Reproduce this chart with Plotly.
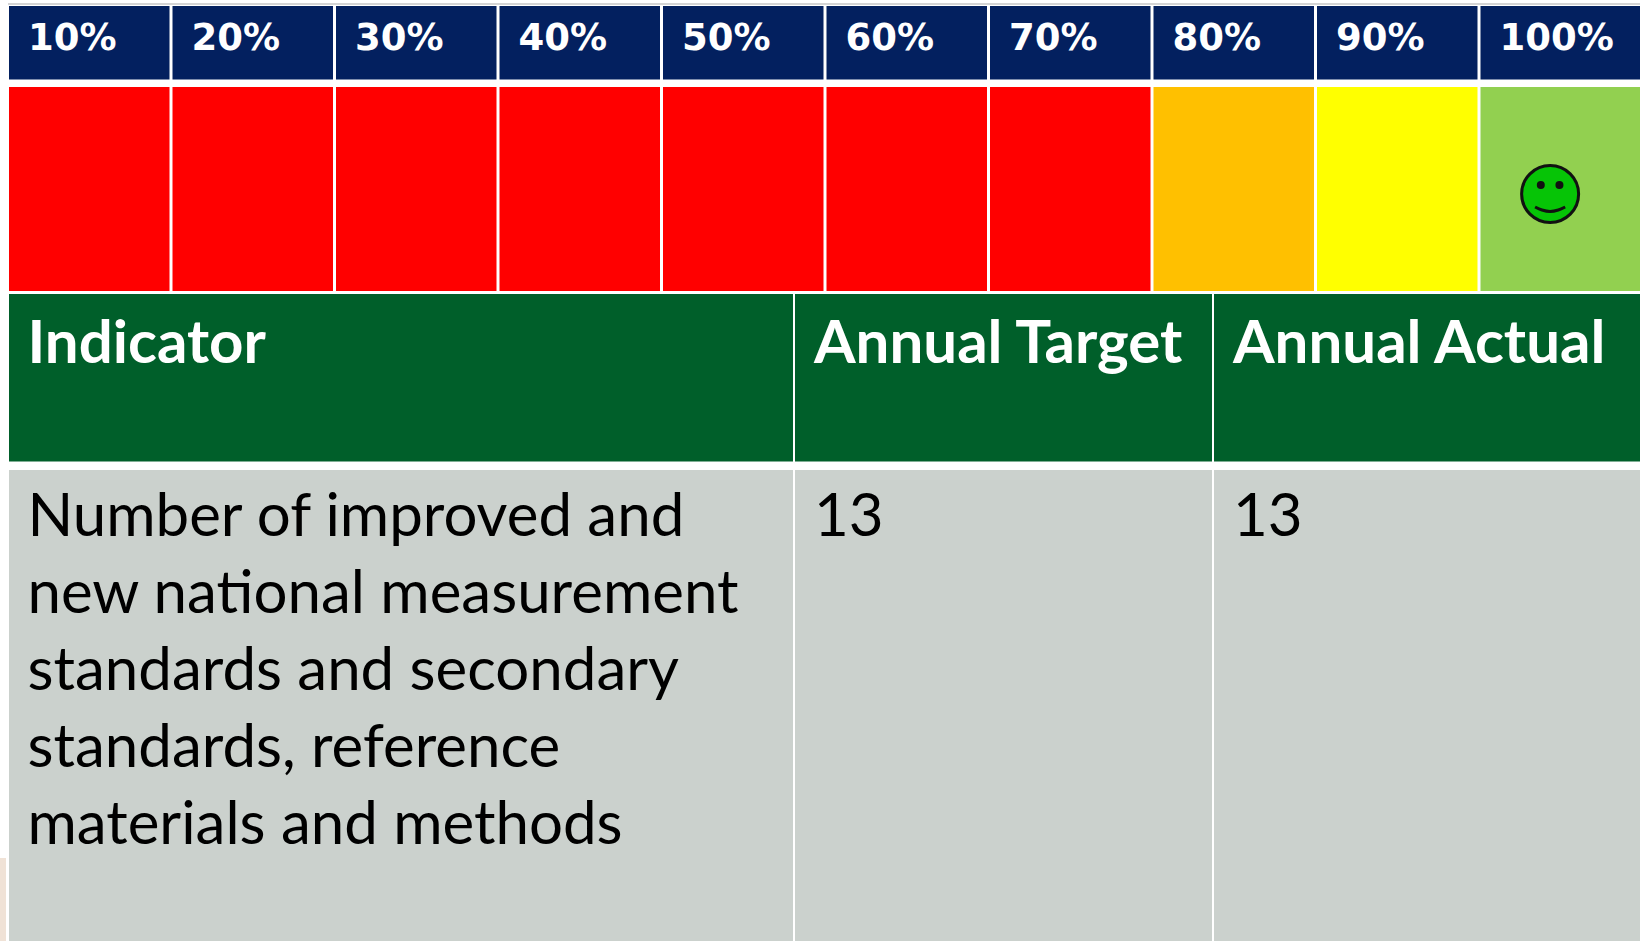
import plotly.graph_objects as go

# --- data ---
levels = [10, 20, 30, 40, 50, 60, 70, 80, 90, 100]
level_labels = ["10%", "20%", "30%", "40%", "50%", "60%", "70%", "80%", "90%", "100%"]
level_colors = ["#ff0000"] * 7 + ["#ffc000", "#ffff00", "#92d050"]
achieved_level = 100
headers = ["Indicator", "Annual Target", "Annual Actual"]
indicator_lines = [
    "Number of improved and",
    "new national measurement",
    "standards and secondary",
    "standards, reference",
    "materials and methods",
]
annual_target = ["13"]
annual_actual = ["13"]

# --- layout constants (pixels of the 1640x941 page) ---
W, H = 1640, 941
PITCH = 163.5          # px per 10 %
LEFT = 9
PX_PER_PCT = PITCH / 10
CELL_W_PCT = 160.5 / PX_PER_PCT
X0_PCT = 10 - (LEFT + 160.5 / 2) / PX_PER_PCT   # percent value at page x=0
col_edges = [(9, 793), (795, 1212), (1214, 1640)]
col_text_x = [27.5, 814, 1233]
FONT = "Lato"
NAVY, GREEN, GREY = "#03205f", "#005f2a", "#cbd1cd"

fig = go.Figure()

# level strip: header and colour cells on a percent axis
fig.add_bar(x=levels, y=[73.5] * 10, base=[6] * 10, width=[CELL_W_PCT] * 10,
            marker=dict(color=NAVY, line=dict(width=0)), hoverinfo="skip")
fig.add_bar(x=levels, y=[204] * 10, base=[87] * 10, width=[CELL_W_PCT] * 10,
            marker=dict(color=level_colors, line=dict(width=0)), hoverinfo="skip")
fig.add_scatter(x=[v - 3.74 for v in levels], y=[41] * 10, mode="text",
                text=level_labels, textposition="middle right",
                textfont=dict(family="DejaVu Sans", size=37, color="white",
                              weight="bold"), hoverinfo="skip")

# smiley at the achieved level
face_x = achieved_level - 0.65
fig.add_scatter(x=[face_x], y=[194], mode="markers",
                marker=dict(size=57, color="#06c406", line=dict(color="#111111", width=3)),
                hoverinfo="skip")
fig.add_scatter(x=[face_x - 0.57, face_x + 0.57], y=[185, 185], mode="markers",
                marker=dict(size=8, color="#111111"), hoverinfo="skip")
fig.add_scatter(x=[face_x - 0.92, face_x - 0.5, face_x, face_x + 0.5, face_x + 0.92],
                y=[207, 210, 211.5, 210, 207], mode="lines",
                line=dict(color="#111111", width=3, shape="spline"), hoverinfo="skip")

# table below, on a pixel-scale axis
centers = [(a + b) / 2 for a, b in col_edges]
widths = [b - a for a, b in col_edges]
fig.add_bar(x=centers, y=[167.5] * 3, base=[294] * 3, width=widths, xaxis="x2",
            marker=dict(color=GREEN, line=dict(width=0)), hoverinfo="skip")
fig.add_bar(x=centers, y=[471] * 3, base=[470] * 3, width=widths, xaxis="x2",
            marker=dict(color=GREY, line=dict(width=0)), hoverinfo="skip")
fig.add_scatter(x=col_text_x, y=[348] * 3, xaxis="x2", mode="text", text=headers,
                textposition="middle right",
                textfont=dict(family=FONT, size=60, color="white", weight="bold"),
                hoverinfo="skip")
fig.add_scatter(x=[col_text_x[0]] * len(indicator_lines),
                y=[521 + 77 * i for i in range(len(indicator_lines))],
                xaxis="x2", mode="text", text=indicator_lines,
                textposition="middle right",
                textfont=dict(family=FONT, size=60, color="black"), hoverinfo="skip")
fig.add_scatter(x=col_text_x[1:], y=[521, 521], xaxis="x2", mode="text",
                text=annual_target + annual_actual, textposition="middle right",
                textfont=dict(family=FONT, size=60, color="black"), hoverinfo="skip")

fig.update_layout(
    width=W, height=H, margin=dict(l=0, r=0, t=0, b=0, pad=0), autosize=False,
    paper_bgcolor="white", plot_bgcolor="white", showlegend=False, barmode="overlay",
    xaxis=dict(range=[X0_PCT, X0_PCT + W / PX_PER_PCT], visible=False, fixedrange=True),
    xaxis2=dict(range=[0, W], visible=False, overlaying="x", fixedrange=True),
    yaxis=dict(range=[H, 0], visible=False, fixedrange=True),
    shapes=[
        dict(type="rect", xref="x2", yref="y", x0=8, x1=W, y0=3, y1=5,
             fillcolor="#d4d4d4", line_width=0, layer="below"),
        dict(type="rect", xref="x2", yref="y", x0=0, x1=6, y0=858, y1=H,
             fillcolor="#f0e2d6", line_width=0, layer="below"),
    ],
)
fig.write_html("out.html", config={"displayModeBar": False},
               post_script="document.body.style.margin='0';document.body.style.overflow='hidden';")
